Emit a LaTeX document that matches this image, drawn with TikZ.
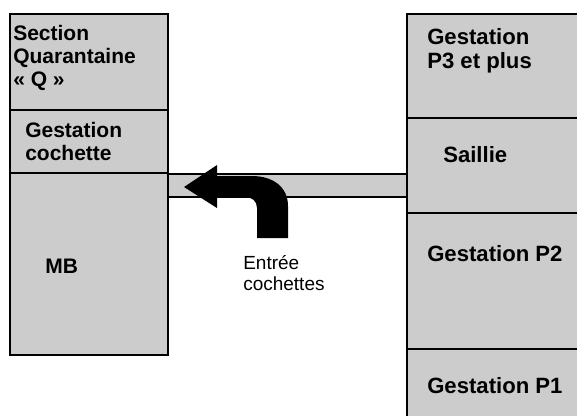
\documentclass[tikz,border=0pt]{standalone}
\usepackage{fontspec}
\setmainfont{Liberation Sans}
\definecolor{shade}{rgb}{0.80,0.80,0.80}
\tikzset{
  wall/.style={draw=black, line width=1.3pt},
  zone/.style={fill=shade},
  lblL/.style={inner sep=0pt, align=left, font=\fontsize{15.75}{17.4}\selectfont\bfseries},
  lblR/.style={inner sep=0pt, align=left, font=\fontsize{16.6}{18}\selectfont\bfseries},
  note/.style={inner sep=0pt, align=left, font=\fontsize{14.25}{15.75}\selectfont},
}
\begin{document}
\begin{tikzpicture}[x=0.75pt, y=-0.75pt]
\useasboundingbox (0,0) rectangle (577,415);
\clip (0,0) rectangle (577,415);
\fill[white] (0,0) rectangle (577,415);
% corridor
\fill[zone] (168,174) rectangle (407,197);
\draw[wall] (168,174) -- (407,174);
\draw[wall] (168,197) -- (407,197);
% left column
\fill[zone] (10,14) rectangle (168,355);
\draw[wall] (10,14) rectangle (168,355);
\draw[wall] (10,110) -- (168,110);
\draw[wall] (10,173) -- (168,173);
% right column
\fill[zone] (407,14) rectangle (600,430);
\draw[wall] (407,430) -- (407,14) -- (600,14);
\draw[wall] (407,118) -- (600,118);
\draw[wall] (407,213) -- (600,213);
\draw[wall] (407,349) -- (600,349);
% bent arrow
\fill[black] (184,187) -- (217,165) -- (217,176) -- (252,176)
  .. controls (273,176) and (288,187) .. (288,206) -- (288,238) -- (257,238) -- (257,208)
  .. controls (257,201) and (252,197) .. (245,197) -- (217,197) -- (217,208) -- cycle;
% labels
\node[lblL, anchor=north west] (q) at (13,25) {Section\\Quarantaine\\« Q »};
\node[lblL, anchor=north west] (gc) at (25,122) {Gestation\\cochette};
\node[lblL, anchor=base west] (mb) at (45,273) {MB};
\node[lblR, anchor=north west] (p3) at (427,28) {Gestation\\P3 et plus};
\node[lblR, anchor=base west] (sa) at (443,162) {Saillie};
\node[lblR, anchor=base west] (p2) at (427,261) {Gestation P2};
\node[lblR, anchor=base west] (p1) at (427,393) {Gestation P1};
\node[note, anchor=north west] (ec) at (243,255) {Entrée\\cochettes};
\end{tikzpicture}
\end{document}
